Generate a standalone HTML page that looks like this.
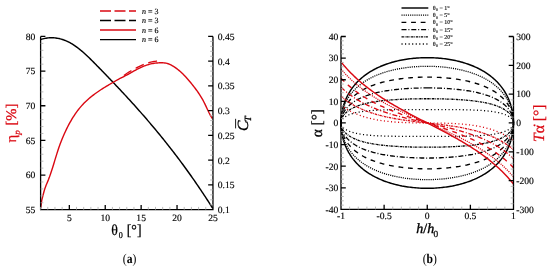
<!DOCTYPE html>
<html><head><meta charset="utf-8"><style>
html,body{margin:0;padding:0;background:#fff;}
body{width:550px;height:270px;overflow:hidden;}
svg{display:block;will-change:transform;font-family:"Liberation Serif",serif;text-rendering:geometricPrecision;}
</style></head><body>
<svg width="550" height="270" viewBox="0 0 550 270">
<rect width="550" height="270" fill="#fff"/>
<g fill="none" stroke-linecap="butt" stroke-linejoin="round">
<path d="M40.7 39.48 L41.78 39.15 L42.86 38.86 L43.95 38.6 L45.03 38.37 L46.11 38.18 L47.19 38.02 L48.28 37.9 L49.36 37.81 L50.44 37.76 L51.52 37.74 L52.61 37.75 L53.69 37.8 L54.77 37.89 L55.85 38.01 L56.94 38.16 L58.02 38.35 L59.1 38.57 L60.18 38.83 L61.27 39.12 L62.35 39.45 L63.43 39.81 L64.51 40.21 L65.59 40.64 L66.68 41.1 L67.76 41.6 L68.84 42.14 L69.92 42.71 L71.01 43.31 L72.09 43.95 L73.17 44.62 L74.25 45.33 L75.34 46.07 L76.42 46.85 L77.5 47.65 L78.58 48.48 L79.67 49.34 L80.75 50.23 L81.83 51.14 L82.91 52.07 L84 53.03 L85.08 54 L86.16 55 L87.24 56.01 L88.33 57.04 L89.41 58.08 L90.49 59.14 L91.57 60.2 L92.65 61.28 L93.74 62.37 L94.82 63.46 L95.9 64.56 L96.98 65.66 L98.07 66.77 L99.15 67.88 L100.23 68.99 L101.31 70.1 L102.4 71.21 L103.48 72.33 L104.56 73.44 L105.64 74.56 L106.73 75.68 L107.81 76.81 L108.89 77.93 L109.97 79.06 L111.06 80.19 L112.14 81.32 L113.22 82.46 L114.3 83.59 L115.38 84.73 L116.47 85.88 L117.55 87.02 L118.63 88.17 L119.71 89.32 L120.8 90.48 L121.88 91.64 L122.96 92.8 L124.04 93.96 L125.13 95.13 L126.21 96.3 L127.29 97.48 L128.37 98.66 L129.46 99.84 L130.54 101.03 L131.62 102.22 L132.7 103.41 L133.79 104.61 L134.87 105.81 L135.95 107.02 L137.03 108.23 L138.12 109.45 L139.2 110.67 L140.28 111.89 L141.36 113.12 L142.44 114.36 L143.53 115.6 L144.61 116.84 L145.69 118.09 L146.77 119.34 L147.86 120.6 L148.94 121.86 L150.02 123.13 L151.1 124.41 L152.19 125.69 L153.27 126.97 L154.35 128.26 L155.43 129.56 L156.52 130.86 L157.6 132.17 L158.68 133.49 L159.76 134.81 L160.85 136.13 L161.93 137.46 L163.01 138.8 L164.09 140.15 L165.17 141.5 L166.26 142.86 L167.34 144.22 L168.42 145.59 L169.5 146.97 L170.59 148.35 L171.67 149.74 L172.75 151.14 L173.83 152.55 L174.92 153.96 L176 155.38 L177.08 156.8 L178.16 158.24 L179.25 159.68 L180.33 161.13 L181.41 162.58 L182.49 164.05 L183.58 165.52 L184.66 167 L185.74 168.48 L186.82 169.98 L187.91 171.48 L188.99 172.99 L190.07 174.51 L191.15 176.04 L192.23 177.58 L193.32 179.12 L194.4 180.68 L195.48 182.24 L196.56 183.81 L197.65 185.39 L198.73 186.97 L199.81 188.57 L200.89 190.18 L201.98 191.79 L203.06 193.42 L204.14 195.05 L205.22 196.69 L206.31 198.34 L207.39 200 L208.47 201.68 L209.55 203.36 L210.64 205.05 L211.72 206.75 L212.8 208.46" stroke="#000" stroke-width="1.45"/>
<path d="M123.85 75.47 L124.93 74.72 L126.01 73.97 L127.09 73.22 L128.17 72.49 L129.25 71.86 L130.33 71.22 L131.41 70.6 L132.49 69.99 L133.57 69.38 L134.65 68.79 L135.73 68.21 L136.81 67.64 L137.89 67.09 L138.97 66.55 L140.05 66.04 L141.13 65.54 L142.21 65.06 L143.29 64.6 L144.37 64.16 L145.45 63.75 L146.53 63.37 L147.61 63.01 L148.69 62.67 L149.77 62.37 L150.85 62.09 L151.93 61.85 L153.01 61.64 L154.09 61.46 L155.17 61.32 L156.25 61.22 L157.33 61.15 L158.41 61.16 L159.49 61.29 L160.57 61.45" stroke="#da0812" stroke-width="1.3" stroke-dasharray="9 4.8"/>
<path d="M40.7 207.69 L41.78 200.19 L42.86 195.89 L43.94 191.71 L45.02 188.16 L46.1 185.24 L47.18 182.66 L48.26 180.12 L49.34 177.36 L50.42 174.32 L51.5 171.08 L52.58 167.68 L53.66 164.17 L54.74 160.62 L55.82 157.09 L56.9 153.62 L57.98 150.27 L59.06 147.1 L60.14 144.09 L61.22 141.24 L62.3 138.54 L63.38 135.97 L64.46 133.51 L65.54 131.17 L66.62 128.92 L67.7 126.76 L68.78 124.69 L69.86 122.7 L70.94 120.79 L72.02 118.96 L73.1 117.2 L74.18 115.52 L75.26 113.91 L76.34 112.37 L77.42 110.9 L78.5 109.48 L79.58 108.13 L80.66 106.84 L81.74 105.61 L82.82 104.42 L83.89 103.29 L84.97 102.21 L86.05 101.16 L87.13 100.16 L88.21 99.2 L89.29 98.27 L90.37 97.37 L91.45 96.49 L92.53 95.64 L93.61 94.82 L94.69 94.01 L95.77 93.22 L96.85 92.45 L97.93 91.7 L99.01 90.97 L100.09 90.25 L101.17 89.54 L102.25 88.85 L103.33 88.17 L104.41 87.5 L105.49 86.84 L106.57 86.18 L107.65 85.54 L108.73 84.9 L109.81 84.27 L110.89 83.64 L111.97 83.01 L113.05 82.38 L114.13 81.76 L115.21 81.14 L116.29 80.51 L117.37 79.88 L118.45 79.29 L119.53 78.74 L120.61 78.19 L121.69 77.64 L122.77 77.08 L123.85 76.53 L124.93 75.97 L126.01 75.41 L127.09 74.86 L128.17 74.3 L129.25 73.66 L130.33 73.03 L131.41 72.41 L132.49 71.79 L133.57 71.19 L134.65 70.59 L135.73 70.01 L136.81 69.45 L137.89 68.9 L138.97 68.36 L140.05 67.84 L141.13 67.34 L142.21 66.86 L143.29 66.41 L144.37 65.97 L145.45 65.56 L146.53 65.17 L147.61 64.81 L148.69 64.48 L149.77 64.17 L150.85 63.9 L151.93 63.66 L153.01 63.45 L154.09 63.27 L155.17 63.13 L156.25 63.02 L157.33 62.95 L158.41 62.89 L159.49 62.79 L160.57 62.74 L161.65 62.73 L162.73 62.77 L163.81 62.85 L164.89 62.98 L165.97 63.15 L167.05 63.38 L168.13 63.75 L169.21 64.18 L170.28 64.66 L171.36 65.19 L172.44 65.78 L173.52 66.42 L174.6 67.11 L175.68 67.85 L176.76 68.64 L177.84 69.48 L178.92 70.36 L180 71.29 L181.08 72.26 L182.16 73.28 L183.24 74.33 L184.32 75.42 L185.4 76.56 L186.48 77.73 L187.56 78.93 L188.64 80.17 L189.72 81.45 L190.8 82.75 L191.88 84.09 L192.96 85.45 L194.04 86.85 L195.12 88.27 L196.2 89.72 L197.28 91.2 L198.36 92.74 L199.44 94.35 L200.52 96.04 L201.6 97.82 L202.68 99.7 L203.76 101.71 L204.84 103.85 L205.92 106.11 L207 108.43 L208.08 110.74 L209.16 112.98 L210.24 115.06 L211.32 116.92 L212.4 118.5" stroke="#da0812" stroke-width="1.4"/>
</g>
<path d="M40.6 36.45 V209.7 H212.95 V36.45 M40.6 209.7 H45.4 M40.6 175.05 H45.4 M40.6 140.4 H45.4 M40.6 105.75 H45.4 M40.6 71.1 H45.4 M40.6 36.45 H45.4 M212.95 209.7 H208.15 M212.95 184.95 H208.15 M212.95 160.2 H208.15 M212.95 135.45 H208.15 M212.95 110.7 H208.15 M212.95 85.95 H208.15 M212.95 61.2 H208.15 M212.95 36.45 H208.15 M69.33 209.7 V204.9 M105.23 209.7 V204.9 M141.14 209.7 V204.9 M177.04 209.7 V204.9 M212.95 209.7 V204.9" fill="none" stroke="#000" stroke-width="1.3"/>
<path d="M40.6 202.77 H43.4 M40.6 195.84 H43.4 M40.6 188.91 H43.4 M40.6 181.98 H43.4 M40.6 168.12 H43.4 M40.6 161.19 H43.4 M40.6 154.26 H43.4 M40.6 147.33 H43.4 M40.6 133.47 H43.4 M40.6 126.54 H43.4 M40.6 119.61 H43.4 M40.6 112.68 H43.4 M40.6 98.82 H43.4 M40.6 91.89 H43.4 M40.6 84.96 H43.4 M40.6 78.03 H43.4 M40.6 64.17 H43.4 M40.6 57.24 H43.4 M40.6 50.31 H43.4 M40.6 43.38 H43.4 M212.95 204.75 H210.15 M212.95 199.8 H210.15 M212.95 194.85 H210.15 M212.95 189.9 H210.15 M212.95 180 H210.15 M212.95 175.05 H210.15 M212.95 170.1 H210.15 M212.95 165.15 H210.15 M212.95 155.25 H210.15 M212.95 150.3 H210.15 M212.95 145.35 H210.15 M212.95 140.4 H210.15 M212.95 130.5 H210.15 M212.95 125.55 H210.15 M212.95 120.6 H210.15 M212.95 115.65 H210.15 M212.95 105.75 H210.15 M212.95 100.8 H210.15 M212.95 95.85 H210.15 M212.95 90.9 H210.15 M212.95 81 H210.15 M212.95 76.05 H210.15 M212.95 71.1 H210.15 M212.95 66.15 H210.15 M212.95 56.25 H210.15 M212.95 51.3 H210.15 M212.95 46.35 H210.15 M212.95 41.4 H210.15 M40.6 209.7 V206.9 M47.78 209.7 V206.9 M54.96 209.7 V206.9 M62.14 209.7 V206.9 M76.51 209.7 V206.9 M83.69 209.7 V206.9 M90.87 209.7 V206.9 M98.05 209.7 V206.9 M112.41 209.7 V206.9 M119.59 209.7 V206.9 M126.78 209.7 V206.9 M133.96 209.7 V206.9 M148.32 209.7 V206.9 M155.5 209.7 V206.9 M162.68 209.7 V206.9 M169.86 209.7 V206.9 M184.22 209.7 V206.9 M191.41 209.7 V206.9 M198.59 209.7 V206.9 M205.77 209.7 V206.9" fill="none" stroke="#aaa" stroke-width="0.8"/>
<g font-size="9.6" fill="#000" stroke="#000" stroke-width="0.15"><text x="35.4" y="212.9" text-anchor="end">55</text><text x="35.4" y="178.25" text-anchor="end">60</text><text x="35.4" y="143.6" text-anchor="end">65</text><text x="35.4" y="108.95" text-anchor="end">70</text><text x="35.4" y="74.3" text-anchor="end">75</text><text x="35.4" y="39.65" text-anchor="end">80</text><text x="217.8" y="213">0.1</text><text x="217.8" y="188.25">0.15</text><text x="217.8" y="163.5">0.2</text><text x="217.8" y="138.75">0.25</text><text x="217.8" y="114">0.3</text><text x="217.8" y="89.25">0.35</text><text x="217.8" y="64.5">0.4</text><text x="217.8" y="39.75">0.45</text><text x="69.33" y="221.3" text-anchor="middle">5</text><text x="105.23" y="221.3" text-anchor="middle">10</text><text x="141.14" y="221.3" text-anchor="middle">15</text><text x="177.04" y="221.3" text-anchor="middle">20</text><text x="212.95" y="221.3" text-anchor="middle">25</text></g>
<g fill="none" stroke-linejoin="round">
<path d="M427.25 57.65 L428.76 57.66 L430.26 57.68 L431.76 57.72 L433.27 57.78 L434.77 57.85 L436.27 57.94 L437.76 58.05 L439.25 58.17 L440.74 58.3 L442.23 58.46 L443.71 58.63 L445.18 58.81 L446.65 59.01 L448.12 59.23 L449.57 59.47 L451.02 59.72 L452.47 59.98 L453.9 60.27 L455.33 60.57 L456.75 60.89 L458.16 61.22 L459.56 61.57 L460.95 61.94 L462.33 62.32 L463.7 62.72 L465.06 63.14 L466.41 63.58 L467.74 64.03 L469.06 64.5 L470.38 64.98 L471.67 65.49 L472.96 66.01 L474.23 66.54 L475.48 67.1 L476.72 67.67 L477.95 68.26 L479.16 68.87 L480.35 69.49 L481.53 70.14 L482.69 70.8 L483.84 71.47 L484.96 72.17 L486.07 72.88 L487.16 73.61 L488.24 74.36 L489.29 75.12 L490.33 75.9 L491.35 76.7 L492.34 77.52 L493.32 78.35 L494.28 79.21 L495.22 80.07 L496.13 80.96 L497.03 81.86 L497.9 82.78 L498.75 83.71 L499.59 84.66 L500.39 85.63 L501.18 86.61 L501.94 87.61 L502.69 88.63 L503.4 89.66 L504.1 90.7 L504.77 91.76 L505.42 92.83 L506.04 93.92 L506.64 95.02 L507.22 96.13 L507.77 97.26 L508.3 98.4 L508.8 99.55 L509.28 100.71 L509.73 101.89 L510.16 103.07 L510.56 104.26 L510.94 105.47 L511.29 106.68 L511.62 107.9 L511.92 109.13 L512.19 110.36 L512.44 111.61 L512.66 112.85 L512.86 114.11 L513.03 115.37 L513.17 116.63 L513.29 117.89 L513.38 119.16 L513.45 120.43 L513.49 121.7 L513.5 122.97 L513.49 124.25 L513.45 125.52 L513.38 126.79 L513.29 128.06 L513.17 129.32 L513.03 130.58 L512.86 131.84 L512.66 133.1 L512.44 134.34 L512.19 135.59 L511.92 136.82 L511.62 138.05 L511.29 139.27 L510.94 140.48 L510.56 141.69 L510.16 142.88 L509.73 144.06 L509.28 145.24 L508.8 146.4 L508.3 147.55 L507.77 148.69 L507.22 149.82 L506.64 150.93 L506.04 152.03 L505.42 153.12 L504.77 154.19 L504.1 155.25 L503.4 156.29 L502.69 157.32 L501.94 158.34 L501.18 159.34 L500.39 160.32 L499.59 161.29 L498.75 162.24 L497.9 163.17 L497.03 164.09 L496.13 164.99 L495.22 165.88 L494.28 166.74 L493.32 167.6 L492.34 168.43 L491.35 169.25 L490.33 170.05 L489.29 170.83 L488.24 171.59 L487.16 172.34 L486.07 173.07 L484.96 173.78 L483.84 174.48 L482.69 175.15 L481.53 175.81 L480.35 176.46 L479.16 177.08 L477.95 177.69 L476.72 178.28 L475.48 178.85 L474.23 179.41 L472.96 179.94 L471.67 180.46 L470.38 180.97 L469.06 181.45 L467.74 181.92 L466.41 182.37 L465.06 182.81 L463.7 183.23 L462.33 183.63 L460.95 184.01 L459.56 184.38 L458.16 184.73 L456.75 185.06 L455.33 185.38 L453.9 185.68 L452.47 185.97 L451.02 186.23 L449.57 186.48 L448.12 186.72 L446.65 186.94 L445.18 187.14 L443.71 187.32 L442.23 187.49 L440.74 187.65 L439.25 187.78 L437.76 187.9 L436.27 188.01 L434.77 188.1 L433.27 188.17 L431.76 188.23 L430.26 188.27 L428.76 188.29 L427.25 188.3 L425.74 188.29 L424.24 188.27 L422.74 188.23 L421.23 188.17 L419.73 188.1 L418.23 188.01 L416.74 187.9 L415.25 187.78 L413.76 187.65 L412.27 187.49 L410.79 187.32 L409.32 187.14 L407.85 186.94 L406.38 186.72 L404.93 186.48 L403.48 186.23 L402.03 185.97 L400.6 185.68 L399.17 185.38 L397.75 185.06 L396.34 184.73 L394.94 184.38 L393.55 184.01 L392.17 183.63 L390.8 183.23 L389.44 182.81 L388.09 182.37 L386.76 181.92 L385.44 181.45 L384.12 180.97 L382.83 180.46 L381.54 179.94 L380.27 179.41 L379.02 178.85 L377.78 178.28 L376.55 177.69 L375.34 177.08 L374.15 176.46 L372.97 175.81 L371.81 175.15 L370.66 174.48 L369.54 173.78 L368.43 173.07 L367.34 172.34 L366.26 171.59 L365.21 170.83 L364.17 170.05 L363.15 169.25 L362.16 168.43 L361.18 167.6 L360.22 166.74 L359.28 165.88 L358.37 164.99 L357.47 164.09 L356.6 163.17 L355.75 162.24 L354.91 161.29 L354.11 160.32 L353.32 159.34 L352.56 158.34 L351.81 157.32 L351.1 156.29 L350.4 155.25 L349.73 154.19 L349.08 153.12 L348.46 152.03 L347.86 150.93 L347.28 149.82 L346.73 148.69 L346.2 147.55 L345.7 146.4 L345.22 145.24 L344.77 144.06 L344.34 142.88 L343.94 141.69 L343.56 140.48 L343.21 139.27 L342.88 138.05 L342.58 136.82 L342.31 135.59 L342.06 134.34 L341.84 133.1 L341.64 131.84 L341.47 130.58 L341.33 129.32 L341.21 128.06 L341.12 126.79 L341.05 125.52 L341.01 124.25 L341 122.98 L341.01 121.7 L341.05 120.43 L341.12 119.16 L341.21 117.89 L341.33 116.63 L341.47 115.37 L341.64 114.11 L341.84 112.85 L342.06 111.61 L342.31 110.36 L342.58 109.13 L342.88 107.9 L343.21 106.68 L343.56 105.47 L343.94 104.26 L344.34 103.07 L344.77 101.89 L345.22 100.71 L345.7 99.55 L346.2 98.4 L346.73 97.26 L347.28 96.13 L347.86 95.02 L348.46 93.92 L349.08 92.83 L349.73 91.76 L350.4 90.7 L351.1 89.66 L351.81 88.63 L352.56 87.61 L353.32 86.61 L354.11 85.63 L354.91 84.66 L355.75 83.71 L356.6 82.78 L357.47 81.86 L358.37 80.96 L359.28 80.07 L360.22 79.21 L361.18 78.35 L362.16 77.52 L363.15 76.7 L364.17 75.9 L365.21 75.12 L366.26 74.36 L367.34 73.61 L368.43 72.88 L369.54 72.17 L370.66 71.47 L371.81 70.8 L372.97 70.14 L374.15 69.49 L375.34 68.87 L376.55 68.26 L377.78 67.67 L379.02 67.1 L380.27 66.54 L381.54 66.01 L382.83 65.49 L384.12 64.98 L385.44 64.5 L386.76 64.03 L388.09 63.58 L389.44 63.14 L390.8 62.72 L392.17 62.32 L393.55 61.94 L394.94 61.57 L396.34 61.22 L397.75 60.89 L399.17 60.57 L400.6 60.27 L402.03 59.98 L403.48 59.72 L404.93 59.47 L406.38 59.23 L407.85 59.01 L409.32 58.81 L410.79 58.63 L412.27 58.46 L413.76 58.3 L415.25 58.17 L416.74 58.05 L418.23 57.94 L419.73 57.85 L421.23 57.78 L422.74 57.72 L424.24 57.68 L425.74 57.66 Z" stroke="#000" stroke-width="1.45"/>
<path d="M427.25 66.3 L428.76 66.31 L430.26 66.33 L431.76 66.36 L433.27 66.41 L434.77 66.47 L436.27 66.54 L437.76 66.63 L439.25 66.73 L440.74 66.84 L442.23 66.97 L443.71 67.11 L445.18 67.27 L446.65 67.44 L448.12 67.62 L449.57 67.82 L451.02 68.03 L452.47 68.25 L453.9 68.49 L455.33 68.75 L456.75 69.01 L458.16 69.29 L459.56 69.59 L460.95 69.9 L462.33 70.22 L463.7 70.56 L465.06 70.91 L466.41 71.28 L467.74 71.66 L469.06 72.06 L470.38 72.47 L471.67 72.9 L472.96 73.34 L474.23 73.8 L475.48 74.27 L476.72 74.76 L477.95 75.26 L479.16 75.78 L480.35 76.31 L481.53 76.86 L482.69 77.42 L483.84 78 L484.96 78.59 L486.07 79.21 L487.16 79.83 L488.24 80.47 L489.29 81.13 L490.33 81.8 L491.35 82.49 L492.34 83.19 L493.32 83.91 L494.28 84.65 L495.22 85.4 L496.13 86.16 L497.03 86.94 L497.9 87.74 L498.75 88.55 L499.59 89.37 L500.39 90.21 L501.18 91.07 L501.94 91.94 L502.69 92.82 L503.4 93.72 L504.1 94.63 L504.77 95.55 L505.42 96.49 L506.04 97.44 L506.64 98.4 L507.22 99.37 L507.77 100.36 L508.3 101.36 L508.8 102.37 L509.28 103.39 L509.73 104.41 L510.16 105.45 L510.56 106.5 L510.94 107.56 L511.29 108.62 L511.62 109.7 L511.92 110.78 L512.19 111.87 L512.44 112.96 L512.66 114.06 L512.86 115.16 L513.03 116.27 L513.17 117.38 L513.29 118.5 L513.38 119.61 L513.45 120.73 L513.49 121.85 L513.5 122.97 L513.49 124.1 L513.45 125.22 L513.38 126.34 L513.29 127.45 L513.17 128.57 L513.03 129.68 L512.86 130.79 L512.66 131.89 L512.44 132.99 L512.19 134.08 L511.92 135.17 L511.62 136.25 L511.29 137.33 L510.94 138.39 L510.56 139.45 L510.16 140.5 L509.73 141.54 L509.28 142.56 L508.8 143.58 L508.3 144.59 L507.77 145.59 L507.22 146.58 L506.64 147.55 L506.04 148.51 L505.42 149.46 L504.77 150.4 L504.1 151.32 L503.4 152.23 L502.69 153.13 L501.94 154.01 L501.18 154.88 L500.39 155.74 L499.59 156.58 L498.75 157.4 L497.9 158.21 L497.03 159.01 L496.13 159.79 L495.22 160.55 L494.28 161.3 L493.32 162.04 L492.34 162.76 L491.35 163.46 L490.33 164.15 L489.29 164.82 L488.24 165.48 L487.16 166.12 L486.07 166.74 L484.96 167.36 L483.84 167.95 L482.69 168.53 L481.53 169.09 L480.35 169.64 L479.16 170.17 L477.95 170.69 L476.72 171.19 L475.48 171.68 L474.23 172.15 L472.96 172.61 L471.67 173.05 L470.38 173.48 L469.06 173.89 L467.74 174.29 L466.41 174.67 L465.06 175.04 L463.7 175.39 L462.33 175.73 L460.95 176.05 L459.56 176.36 L458.16 176.66 L456.75 176.94 L455.33 177.2 L453.9 177.46 L452.47 177.7 L451.02 177.92 L449.57 178.13 L448.12 178.33 L446.65 178.51 L445.18 178.68 L443.71 178.84 L442.23 178.98 L440.74 179.11 L439.25 179.22 L437.76 179.32 L436.27 179.41 L434.77 179.48 L433.27 179.54 L431.76 179.59 L430.26 179.62 L428.76 179.64 L427.25 179.65 L425.74 179.64 L424.24 179.62 L422.74 179.59 L421.23 179.54 L419.73 179.48 L418.23 179.41 L416.74 179.32 L415.25 179.22 L413.76 179.11 L412.27 178.98 L410.79 178.84 L409.32 178.68 L407.85 178.51 L406.38 178.33 L404.93 178.13 L403.48 177.92 L402.03 177.7 L400.6 177.46 L399.17 177.2 L397.75 176.94 L396.34 176.66 L394.94 176.36 L393.55 176.05 L392.17 175.73 L390.8 175.39 L389.44 175.04 L388.09 174.67 L386.76 174.29 L385.44 173.89 L384.12 173.48 L382.83 173.05 L381.54 172.61 L380.27 172.15 L379.02 171.68 L377.78 171.19 L376.55 170.69 L375.34 170.17 L374.15 169.64 L372.97 169.09 L371.81 168.53 L370.66 167.95 L369.54 167.36 L368.43 166.74 L367.34 166.12 L366.26 165.48 L365.21 164.82 L364.17 164.15 L363.15 163.46 L362.16 162.76 L361.18 162.04 L360.22 161.3 L359.28 160.55 L358.37 159.79 L357.47 159.01 L356.6 158.21 L355.75 157.4 L354.91 156.58 L354.11 155.74 L353.32 154.88 L352.56 154.01 L351.81 153.13 L351.1 152.23 L350.4 151.32 L349.73 150.4 L349.08 149.46 L348.46 148.51 L347.86 147.55 L347.28 146.58 L346.73 145.59 L346.2 144.59 L345.7 143.58 L345.22 142.56 L344.77 141.54 L344.34 140.5 L343.94 139.45 L343.56 138.39 L343.21 137.33 L342.88 136.25 L342.58 135.17 L342.31 134.08 L342.06 132.99 L341.84 131.89 L341.64 130.79 L341.47 129.68 L341.33 128.57 L341.21 127.45 L341.12 126.34 L341.05 125.22 L341.01 124.1 L341 122.98 L341.01 121.85 L341.05 120.73 L341.12 119.61 L341.21 118.5 L341.33 117.38 L341.47 116.27 L341.64 115.16 L341.84 114.06 L342.06 112.96 L342.31 111.87 L342.58 110.78 L342.88 109.7 L343.21 108.62 L343.56 107.56 L343.94 106.5 L344.34 105.45 L344.77 104.41 L345.22 103.39 L345.7 102.37 L346.2 101.36 L346.73 100.36 L347.28 99.37 L347.86 98.4 L348.46 97.44 L349.08 96.49 L349.73 95.55 L350.4 94.63 L351.1 93.72 L351.81 92.82 L352.56 91.94 L353.32 91.07 L354.11 90.21 L354.91 89.37 L355.75 88.55 L356.6 87.74 L357.47 86.94 L358.37 86.16 L359.28 85.4 L360.22 84.65 L361.18 83.91 L362.16 83.19 L363.15 82.49 L364.17 81.8 L365.21 81.13 L366.26 80.47 L367.34 79.83 L368.43 79.21 L369.54 78.59 L370.66 78 L371.81 77.42 L372.97 76.86 L374.15 76.31 L375.34 75.78 L376.55 75.26 L377.78 74.76 L379.02 74.27 L380.27 73.8 L381.54 73.34 L382.83 72.9 L384.12 72.47 L385.44 72.06 L386.76 71.66 L388.09 71.28 L389.44 70.91 L390.8 70.56 L392.17 70.22 L393.55 69.9 L394.94 69.59 L396.34 69.29 L397.75 69.01 L399.17 68.75 L400.6 68.49 L402.03 68.25 L403.48 68.03 L404.93 67.82 L406.38 67.62 L407.85 67.44 L409.32 67.27 L410.79 67.11 L412.27 66.97 L413.76 66.84 L415.25 66.73 L416.74 66.63 L418.23 66.54 L419.73 66.47 L421.23 66.41 L422.74 66.36 L424.24 66.33 L425.74 66.31 Z" stroke="#000" stroke-width="1.3" stroke-dasharray="1.1 1.05"/>
<path d="M427.25 77.11 L428.76 77.11 L430.26 77.13 L431.76 77.15 L433.27 77.19 L434.77 77.24 L436.27 77.29 L437.76 77.36 L439.25 77.43 L440.74 77.52 L442.23 77.62 L443.71 77.73 L445.18 77.84 L446.65 77.97 L448.12 78.11 L449.57 78.26 L451.02 78.42 L452.47 78.59 L453.9 78.77 L455.33 78.97 L456.75 79.17 L458.16 79.38 L459.56 79.61 L460.95 79.85 L462.33 80.1 L463.7 80.36 L465.06 80.63 L466.41 80.91 L467.74 81.21 L469.06 81.51 L470.38 81.83 L471.67 82.16 L472.96 82.51 L474.23 82.86 L475.48 83.23 L476.72 83.61 L477.95 84 L479.16 84.41 L480.35 84.83 L481.53 85.26 L482.69 85.7 L483.84 86.16 L484.96 86.63 L486.07 87.11 L487.16 87.61 L488.24 88.12 L489.29 88.64 L490.33 89.17 L491.35 89.72 L492.34 90.29 L493.32 90.86 L494.28 91.45 L495.22 92.05 L496.13 92.67 L497.03 93.3 L497.9 93.94 L498.75 94.59 L499.59 95.26 L500.39 95.94 L501.18 96.64 L501.94 97.34 L502.69 98.06 L503.4 98.79 L504.1 99.53 L504.77 100.29 L505.42 101.06 L506.04 101.83 L506.64 102.62 L507.22 103.42 L507.77 104.23 L508.3 105.05 L508.8 105.89 L509.28 106.73 L509.73 107.57 L510.16 108.43 L510.56 109.3 L510.94 110.17 L511.29 111.06 L511.62 111.95 L511.92 112.84 L512.19 113.74 L512.44 114.65 L512.66 115.56 L512.86 116.48 L513.03 117.4 L513.17 118.32 L513.29 119.25 L513.38 120.18 L513.45 121.11 L513.49 122.04 L513.5 122.97 L513.49 123.91 L513.45 124.84 L513.38 125.77 L513.29 126.7 L513.17 127.63 L513.03 128.55 L512.86 129.47 L512.66 130.39 L512.44 131.3 L512.19 132.21 L511.92 133.11 L511.62 134 L511.29 134.89 L510.94 135.78 L510.56 136.65 L510.16 137.52 L509.73 138.38 L509.28 139.22 L508.8 140.06 L508.3 140.9 L507.77 141.72 L507.22 142.53 L506.64 143.33 L506.04 144.12 L505.42 144.89 L504.77 145.66 L504.1 146.42 L503.4 147.16 L502.69 147.89 L501.94 148.61 L501.18 149.31 L500.39 150.01 L499.59 150.69 L498.75 151.36 L497.9 152.01 L497.03 152.65 L496.13 153.28 L495.22 153.9 L494.28 154.5 L493.32 155.09 L492.34 155.66 L491.35 156.23 L490.33 156.78 L489.29 157.31 L488.24 157.83 L487.16 158.34 L486.07 158.84 L484.96 159.32 L483.84 159.79 L482.69 160.25 L481.53 160.69 L480.35 161.12 L479.16 161.54 L477.95 161.95 L476.72 162.34 L475.48 162.72 L474.23 163.09 L472.96 163.44 L471.67 163.79 L470.38 164.12 L469.06 164.44 L467.74 164.74 L466.41 165.04 L465.06 165.32 L463.7 165.59 L462.33 165.85 L460.95 166.1 L459.56 166.34 L458.16 166.57 L456.75 166.78 L455.33 166.98 L453.9 167.18 L452.47 167.36 L451.02 167.53 L449.57 167.69 L448.12 167.84 L446.65 167.98 L445.18 168.11 L443.71 168.22 L442.23 168.33 L440.74 168.43 L439.25 168.52 L437.76 168.59 L436.27 168.66 L434.77 168.71 L433.27 168.76 L431.76 168.8 L430.26 168.82 L428.76 168.84 L427.25 168.84 L425.74 168.84 L424.24 168.82 L422.74 168.8 L421.23 168.76 L419.73 168.71 L418.23 168.66 L416.74 168.59 L415.25 168.52 L413.76 168.43 L412.27 168.33 L410.79 168.22 L409.32 168.11 L407.85 167.98 L406.38 167.84 L404.93 167.69 L403.48 167.53 L402.03 167.36 L400.6 167.18 L399.17 166.98 L397.75 166.78 L396.34 166.57 L394.94 166.34 L393.55 166.1 L392.17 165.85 L390.8 165.59 L389.44 165.32 L388.09 165.04 L386.76 164.74 L385.44 164.44 L384.12 164.12 L382.83 163.79 L381.54 163.44 L380.27 163.09 L379.02 162.72 L377.78 162.34 L376.55 161.95 L375.34 161.54 L374.15 161.12 L372.97 160.69 L371.81 160.25 L370.66 159.79 L369.54 159.32 L368.43 158.84 L367.34 158.34 L366.26 157.83 L365.21 157.31 L364.17 156.78 L363.15 156.23 L362.16 155.66 L361.18 155.09 L360.22 154.5 L359.28 153.9 L358.37 153.28 L357.47 152.65 L356.6 152.01 L355.75 151.36 L354.91 150.69 L354.11 150.01 L353.32 149.31 L352.56 148.61 L351.81 147.89 L351.1 147.16 L350.4 146.42 L349.73 145.66 L349.08 144.89 L348.46 144.12 L347.86 143.33 L347.28 142.53 L346.73 141.72 L346.2 140.9 L345.7 140.06 L345.22 139.22 L344.77 138.38 L344.34 137.52 L343.94 136.65 L343.56 135.78 L343.21 134.89 L342.88 134 L342.58 133.11 L342.31 132.21 L342.06 131.3 L341.84 130.39 L341.64 129.47 L341.47 128.55 L341.33 127.63 L341.21 126.7 L341.12 125.77 L341.05 124.84 L341.01 123.91 L341 122.98 L341.01 122.04 L341.05 121.11 L341.12 120.18 L341.21 119.25 L341.33 118.32 L341.47 117.4 L341.64 116.48 L341.84 115.56 L342.06 114.65 L342.31 113.74 L342.58 112.84 L342.88 111.95 L343.21 111.06 L343.56 110.17 L343.94 109.3 L344.34 108.43 L344.77 107.57 L345.22 106.73 L345.7 105.89 L346.2 105.05 L346.73 104.23 L347.28 103.42 L347.86 102.62 L348.46 101.83 L349.08 101.06 L349.73 100.29 L350.4 99.53 L351.1 98.79 L351.81 98.06 L352.56 97.34 L353.32 96.64 L354.11 95.94 L354.91 95.26 L355.75 94.59 L356.6 93.94 L357.47 93.3 L358.37 92.67 L359.28 92.05 L360.22 91.45 L361.18 90.86 L362.16 90.29 L363.15 89.72 L364.17 89.17 L365.21 88.64 L366.26 88.12 L367.34 87.61 L368.43 87.11 L369.54 86.63 L370.66 86.16 L371.81 85.7 L372.97 85.26 L374.15 84.83 L375.34 84.41 L376.55 84 L377.78 83.61 L379.02 83.23 L380.27 82.86 L381.54 82.51 L382.83 82.16 L384.12 81.83 L385.44 81.51 L386.76 81.21 L388.09 80.91 L389.44 80.63 L390.8 80.36 L392.17 80.1 L393.55 79.85 L394.94 79.61 L396.34 79.38 L397.75 79.17 L399.17 78.97 L400.6 78.77 L402.03 78.59 L403.48 78.42 L404.93 78.26 L406.38 78.11 L407.85 77.97 L409.32 77.84 L410.79 77.73 L412.27 77.62 L413.76 77.52 L415.25 77.43 L416.74 77.36 L418.23 77.29 L419.73 77.24 L421.23 77.19 L422.74 77.15 L424.24 77.13 L425.74 77.11 Z" stroke="#000" stroke-width="1.35" stroke-dasharray="4.8 4.8"/>
<path d="M427.25 87.92 L428.76 87.92 L430.26 87.93 L431.76 87.95 L433.27 87.97 L434.77 88 L436.27 88.04 L437.76 88.09 L439.25 88.14 L440.74 88.2 L442.23 88.26 L443.71 88.34 L445.18 88.42 L446.65 88.5 L448.12 88.6 L449.57 88.7 L451.02 88.81 L452.47 88.93 L453.9 89.05 L455.33 89.19 L456.75 89.33 L458.16 89.48 L459.56 89.63 L460.95 89.8 L462.33 89.97 L463.7 90.15 L465.06 90.34 L466.41 90.54 L467.74 90.75 L469.06 90.97 L470.38 91.19 L471.67 91.43 L472.96 91.67 L474.23 91.93 L475.48 92.19 L476.72 92.46 L477.95 92.75 L479.16 93.04 L480.35 93.34 L481.53 93.66 L482.69 93.98 L483.84 94.32 L484.96 94.66 L486.07 95.02 L487.16 95.38 L488.24 95.76 L489.29 96.15 L490.33 96.55 L491.35 96.96 L492.34 97.38 L493.32 97.81 L494.28 98.25 L495.22 98.71 L496.13 99.17 L497.03 99.65 L497.9 100.14 L498.75 100.64 L499.59 101.15 L500.39 101.67 L501.18 102.2 L501.94 102.75 L502.69 103.3 L503.4 103.87 L504.1 104.44 L504.77 105.03 L505.42 105.62 L506.04 106.23 L506.64 106.85 L507.22 107.47 L507.77 108.11 L508.3 108.75 L508.8 109.4 L509.28 110.07 L509.73 110.74 L510.16 111.41 L510.56 112.1 L510.94 112.79 L511.29 113.49 L511.62 114.19 L511.92 114.9 L512.19 115.62 L512.44 116.34 L512.66 117.07 L512.86 117.8 L513.03 118.53 L513.17 119.27 L513.29 120 L513.38 120.74 L513.45 121.49 L513.49 122.23 L513.5 122.97 L513.49 123.72 L513.45 124.46 L513.38 125.21 L513.29 125.95 L513.17 126.68 L513.03 127.42 L512.86 128.15 L512.66 128.88 L512.44 129.61 L512.19 130.33 L511.92 131.05 L511.62 131.76 L511.29 132.46 L510.94 133.16 L510.56 133.85 L510.16 134.54 L509.73 135.21 L509.28 135.88 L508.8 136.55 L508.3 137.2 L507.77 137.84 L507.22 138.48 L506.64 139.1 L506.04 139.72 L505.42 140.33 L504.77 140.92 L504.1 141.51 L503.4 142.08 L502.69 142.65 L501.94 143.2 L501.18 143.75 L500.39 144.28 L499.59 144.8 L498.75 145.31 L497.9 145.81 L497.03 146.3 L496.13 146.78 L495.22 147.24 L494.28 147.7 L493.32 148.14 L492.34 148.57 L491.35 148.99 L490.33 149.4 L489.29 149.8 L488.24 150.19 L487.16 150.57 L486.07 150.93 L484.96 151.29 L483.84 151.63 L482.69 151.97 L481.53 152.29 L480.35 152.61 L479.16 152.91 L477.95 153.2 L476.72 153.49 L475.48 153.76 L474.23 154.02 L472.96 154.28 L471.67 154.52 L470.38 154.76 L469.06 154.98 L467.74 155.2 L466.41 155.41 L465.06 155.61 L463.7 155.8 L462.33 155.98 L460.95 156.15 L459.56 156.32 L458.16 156.47 L456.75 156.62 L455.33 156.76 L453.9 156.9 L452.47 157.02 L451.02 157.14 L449.57 157.25 L448.12 157.35 L446.65 157.45 L445.18 157.53 L443.71 157.61 L442.23 157.69 L440.74 157.75 L439.25 157.81 L437.76 157.86 L436.27 157.91 L434.77 157.95 L433.27 157.98 L431.76 158 L430.26 158.02 L428.76 158.03 L427.25 158.03 L425.74 158.03 L424.24 158.02 L422.74 158 L421.23 157.98 L419.73 157.95 L418.23 157.91 L416.74 157.86 L415.25 157.81 L413.76 157.75 L412.27 157.69 L410.79 157.61 L409.32 157.53 L407.85 157.45 L406.38 157.35 L404.93 157.25 L403.48 157.14 L402.03 157.02 L400.6 156.9 L399.17 156.76 L397.75 156.62 L396.34 156.47 L394.94 156.32 L393.55 156.15 L392.17 155.98 L390.8 155.8 L389.44 155.61 L388.09 155.41 L386.76 155.2 L385.44 154.98 L384.12 154.76 L382.83 154.52 L381.54 154.28 L380.27 154.02 L379.02 153.76 L377.78 153.49 L376.55 153.2 L375.34 152.91 L374.15 152.61 L372.97 152.29 L371.81 151.97 L370.66 151.63 L369.54 151.29 L368.43 150.93 L367.34 150.57 L366.26 150.19 L365.21 149.8 L364.17 149.4 L363.15 148.99 L362.16 148.57 L361.18 148.14 L360.22 147.7 L359.28 147.24 L358.37 146.78 L357.47 146.3 L356.6 145.81 L355.75 145.31 L354.91 144.8 L354.11 144.28 L353.32 143.75 L352.56 143.2 L351.81 142.65 L351.1 142.08 L350.4 141.51 L349.73 140.92 L349.08 140.33 L348.46 139.72 L347.86 139.1 L347.28 138.48 L346.73 137.84 L346.2 137.2 L345.7 136.55 L345.22 135.88 L344.77 135.21 L344.34 134.54 L343.94 133.85 L343.56 133.16 L343.21 132.46 L342.88 131.76 L342.58 131.05 L342.31 130.33 L342.06 129.61 L341.84 128.88 L341.64 128.15 L341.47 127.42 L341.33 126.68 L341.21 125.95 L341.12 125.21 L341.05 124.46 L341.01 123.72 L341 122.98 L341.01 122.23 L341.05 121.49 L341.12 120.74 L341.21 120 L341.33 119.27 L341.47 118.53 L341.64 117.8 L341.84 117.07 L342.06 116.34 L342.31 115.62 L342.58 114.9 L342.88 114.19 L343.21 113.49 L343.56 112.79 L343.94 112.1 L344.34 111.41 L344.77 110.74 L345.22 110.07 L345.7 109.4 L346.2 108.75 L346.73 108.11 L347.28 107.47 L347.86 106.85 L348.46 106.23 L349.08 105.62 L349.73 105.03 L350.4 104.44 L351.1 103.87 L351.81 103.3 L352.56 102.75 L353.32 102.2 L354.11 101.67 L354.91 101.15 L355.75 100.64 L356.6 100.14 L357.47 99.65 L358.37 99.17 L359.28 98.71 L360.22 98.25 L361.18 97.81 L362.16 97.38 L363.15 96.96 L364.17 96.55 L365.21 96.15 L366.26 95.76 L367.34 95.38 L368.43 95.02 L369.54 94.66 L370.66 94.32 L371.81 93.98 L372.97 93.66 L374.15 93.34 L375.34 93.04 L376.55 92.75 L377.78 92.46 L379.02 92.19 L380.27 91.93 L381.54 91.67 L382.83 91.43 L384.12 91.19 L385.44 90.97 L386.76 90.75 L388.09 90.54 L389.44 90.34 L390.8 90.15 L392.17 89.97 L393.55 89.8 L394.94 89.63 L396.34 89.48 L397.75 89.33 L399.17 89.19 L400.6 89.05 L402.03 88.93 L403.48 88.81 L404.93 88.7 L406.38 88.6 L407.85 88.5 L409.32 88.42 L410.79 88.34 L412.27 88.26 L413.76 88.2 L415.25 88.14 L416.74 88.09 L418.23 88.04 L419.73 88 L421.23 87.97 L422.74 87.95 L424.24 87.93 L425.74 87.92 Z" stroke="#000" stroke-width="1.3" stroke-dasharray="5 1.9 1 1.9"/>
<path d="M427.25 98.73 L428.76 98.73 L430.26 98.73 L431.76 98.74 L433.27 98.76 L434.77 98.77 L436.27 98.79 L437.76 98.82 L439.25 98.84 L440.74 98.87 L442.23 98.91 L443.71 98.95 L445.18 98.99 L446.65 99.04 L448.12 99.09 L449.57 99.14 L451.02 99.2 L452.47 99.27 L453.9 99.33 L455.33 99.41 L456.75 99.48 L458.16 99.57 L459.56 99.66 L460.95 99.75 L462.33 99.85 L463.7 99.95 L465.06 100.06 L466.41 100.17 L467.74 100.3 L469.06 100.42 L470.38 100.56 L471.67 100.69 L472.96 100.84 L474.23 100.99 L475.48 101.15 L476.72 101.32 L477.95 101.49 L479.16 101.67 L480.35 101.86 L481.53 102.06 L482.69 102.26 L483.84 102.47 L484.96 102.69 L486.07 102.92 L487.16 103.16 L488.24 103.4 L489.29 103.66 L490.33 103.92 L491.35 104.19 L492.34 104.47 L493.32 104.76 L494.28 105.06 L495.22 105.36 L496.13 105.68 L497.03 106 L497.9 106.34 L498.75 106.68 L499.59 107.04 L500.39 107.4 L501.18 107.77 L501.94 108.15 L502.69 108.54 L503.4 108.94 L504.1 109.35 L504.77 109.77 L505.42 110.19 L506.04 110.63 L506.64 111.07 L507.22 111.52 L507.77 111.98 L508.3 112.45 L508.8 112.92 L509.28 113.41 L509.73 113.9 L510.16 114.39 L510.56 114.89 L510.94 115.4 L511.29 115.92 L511.62 116.44 L511.92 116.97 L512.19 117.5 L512.44 118.03 L512.66 118.57 L512.86 119.11 L513.03 119.66 L513.17 120.21 L513.29 120.76 L513.38 121.31 L513.45 121.86 L513.49 122.42 L513.5 122.97 L513.49 123.53 L513.45 124.09 L513.38 124.64 L513.29 125.19 L513.17 125.74 L513.03 126.29 L512.86 126.84 L512.66 127.38 L512.44 127.92 L512.19 128.45 L511.92 128.98 L511.62 129.51 L511.29 130.03 L510.94 130.55 L510.56 131.06 L510.16 131.56 L509.73 132.05 L509.28 132.54 L508.8 133.03 L508.3 133.5 L507.77 133.97 L507.22 134.43 L506.64 134.88 L506.04 135.32 L505.42 135.76 L504.77 136.18 L504.1 136.6 L503.4 137.01 L502.69 137.41 L501.94 137.8 L501.18 138.18 L500.39 138.55 L499.59 138.91 L498.75 139.27 L497.9 139.61 L497.03 139.95 L496.13 140.27 L495.22 140.59 L494.28 140.89 L493.32 141.19 L492.34 141.48 L491.35 141.76 L490.33 142.03 L489.29 142.29 L488.24 142.55 L487.16 142.79 L486.07 143.03 L484.96 143.26 L483.84 143.48 L482.69 143.69 L481.53 143.89 L480.35 144.09 L479.16 144.28 L477.95 144.46 L476.72 144.63 L475.48 144.8 L474.23 144.96 L472.96 145.11 L471.67 145.26 L470.38 145.39 L469.06 145.53 L467.74 145.65 L466.41 145.78 L465.06 145.89 L463.7 146 L462.33 146.1 L460.95 146.2 L459.56 146.29 L458.16 146.38 L456.75 146.47 L455.33 146.54 L453.9 146.62 L452.47 146.68 L451.02 146.75 L449.57 146.81 L448.12 146.86 L446.65 146.91 L445.18 146.96 L443.71 147 L442.23 147.04 L440.74 147.08 L439.25 147.11 L437.76 147.13 L436.27 147.16 L434.77 147.18 L433.27 147.19 L431.76 147.21 L430.26 147.22 L428.76 147.22 L427.25 147.22 L425.74 147.22 L424.24 147.22 L422.74 147.21 L421.23 147.19 L419.73 147.18 L418.23 147.16 L416.74 147.13 L415.25 147.11 L413.76 147.08 L412.27 147.04 L410.79 147 L409.32 146.96 L407.85 146.91 L406.38 146.86 L404.93 146.81 L403.48 146.75 L402.03 146.68 L400.6 146.62 L399.17 146.54 L397.75 146.47 L396.34 146.38 L394.94 146.29 L393.55 146.2 L392.17 146.1 L390.8 146 L389.44 145.89 L388.09 145.78 L386.76 145.65 L385.44 145.53 L384.12 145.39 L382.83 145.26 L381.54 145.11 L380.27 144.96 L379.02 144.8 L377.78 144.63 L376.55 144.46 L375.34 144.28 L374.15 144.09 L372.97 143.89 L371.81 143.69 L370.66 143.48 L369.54 143.26 L368.43 143.03 L367.34 142.79 L366.26 142.55 L365.21 142.29 L364.17 142.03 L363.15 141.76 L362.16 141.48 L361.18 141.19 L360.22 140.89 L359.28 140.59 L358.37 140.27 L357.47 139.95 L356.6 139.61 L355.75 139.27 L354.91 138.91 L354.11 138.55 L353.32 138.18 L352.56 137.8 L351.81 137.41 L351.1 137.01 L350.4 136.6 L349.73 136.18 L349.08 135.76 L348.46 135.32 L347.86 134.88 L347.28 134.43 L346.73 133.97 L346.2 133.5 L345.7 133.03 L345.22 132.54 L344.77 132.05 L344.34 131.56 L343.94 131.06 L343.56 130.55 L343.21 130.03 L342.88 129.51 L342.58 128.98 L342.31 128.45 L342.06 127.92 L341.84 127.38 L341.64 126.84 L341.47 126.29 L341.33 125.74 L341.21 125.19 L341.12 124.64 L341.05 124.09 L341.01 123.53 L341 122.97 L341.01 122.42 L341.05 121.86 L341.12 121.31 L341.21 120.76 L341.33 120.21 L341.47 119.66 L341.64 119.11 L341.84 118.57 L342.06 118.03 L342.31 117.5 L342.58 116.97 L342.88 116.44 L343.21 115.92 L343.56 115.4 L343.94 114.89 L344.34 114.39 L344.77 113.9 L345.22 113.41 L345.7 112.92 L346.2 112.45 L346.73 111.98 L347.28 111.52 L347.86 111.07 L348.46 110.63 L349.08 110.19 L349.73 109.77 L350.4 109.35 L351.1 108.94 L351.81 108.54 L352.56 108.15 L353.32 107.77 L354.11 107.4 L354.91 107.04 L355.75 106.68 L356.6 106.34 L357.47 106 L358.37 105.68 L359.28 105.36 L360.22 105.06 L361.18 104.76 L362.16 104.47 L363.15 104.19 L364.17 103.92 L365.21 103.66 L366.26 103.4 L367.34 103.16 L368.43 102.92 L369.54 102.69 L370.66 102.47 L371.81 102.26 L372.97 102.06 L374.15 101.86 L375.34 101.67 L376.55 101.49 L377.78 101.32 L379.02 101.15 L380.27 100.99 L381.54 100.84 L382.83 100.69 L384.12 100.56 L385.44 100.42 L386.76 100.3 L388.09 100.17 L389.44 100.06 L390.8 99.95 L392.17 99.85 L393.55 99.75 L394.94 99.66 L396.34 99.57 L397.75 99.48 L399.17 99.41 L400.6 99.33 L402.03 99.27 L403.48 99.2 L404.93 99.14 L406.38 99.09 L407.85 99.04 L409.32 98.99 L410.79 98.95 L412.27 98.91 L413.76 98.87 L415.25 98.84 L416.74 98.82 L418.23 98.79 L419.73 98.77 L421.23 98.76 L422.74 98.74 L424.24 98.73 L425.74 98.73 Z" stroke="#000" stroke-width="1.3" stroke-dasharray="2.4 0.8 0.8 0.8"/>
<path d="M427.25 109.54 L428.76 109.54 L430.26 109.54 L431.76 109.54 L433.27 109.54 L434.77 109.54 L436.27 109.54 L437.76 109.54 L439.25 109.55 L440.74 109.55 L442.23 109.55 L443.71 109.56 L445.18 109.56 L446.65 109.57 L448.12 109.58 L449.57 109.58 L451.02 109.59 L452.47 109.6 L453.9 109.61 L455.33 109.63 L456.75 109.64 L458.16 109.66 L459.56 109.68 L460.95 109.7 L462.33 109.72 L463.7 109.75 L465.06 109.77 L466.41 109.81 L467.74 109.84 L469.06 109.88 L470.38 109.92 L471.67 109.96 L472.96 110.01 L474.23 110.06 L475.48 110.11 L476.72 110.17 L477.95 110.24 L479.16 110.31 L480.35 110.38 L481.53 110.46 L482.69 110.54 L483.84 110.63 L484.96 110.73 L486.07 110.83 L487.16 110.93 L488.24 111.05 L489.29 111.17 L490.33 111.29 L491.35 111.42 L492.34 111.56 L493.32 111.71 L494.28 111.86 L495.22 112.02 L496.13 112.18 L497.03 112.36 L497.9 112.54 L498.75 112.73 L499.59 112.92 L500.39 113.13 L501.18 113.34 L501.94 113.56 L502.69 113.78 L503.4 114.02 L504.1 114.26 L504.77 114.5 L505.42 114.76 L506.04 115.02 L506.64 115.29 L507.22 115.57 L507.77 115.85 L508.3 116.15 L508.8 116.44 L509.28 116.75 L509.73 117.06 L510.16 117.37 L510.56 117.69 L510.94 118.02 L511.29 118.35 L511.62 118.69 L511.92 119.03 L512.19 119.37 L512.44 119.72 L512.66 120.07 L512.86 120.43 L513.03 120.79 L513.17 121.15 L513.29 121.51 L513.38 121.88 L513.45 122.24 L513.49 122.61 L513.5 122.97 L513.49 123.34 L513.45 123.71 L513.38 124.07 L513.29 124.44 L513.17 124.8 L513.03 125.16 L512.86 125.52 L512.66 125.88 L512.44 126.23 L512.19 126.58 L511.92 126.92 L511.62 127.26 L511.29 127.6 L510.94 127.93 L510.56 128.26 L510.16 128.58 L509.73 128.89 L509.28 129.2 L508.8 129.51 L508.3 129.8 L507.77 130.1 L507.22 130.38 L506.64 130.66 L506.04 130.93 L505.42 131.19 L504.77 131.45 L504.1 131.69 L503.4 131.93 L502.69 132.17 L501.94 132.39 L501.18 132.61 L500.39 132.82 L499.59 133.03 L498.75 133.22 L497.9 133.41 L497.03 133.59 L496.13 133.77 L495.22 133.93 L494.28 134.09 L493.32 134.24 L492.34 134.39 L491.35 134.53 L490.33 134.66 L489.29 134.78 L488.24 134.9 L487.16 135.02 L486.07 135.12 L484.96 135.22 L483.84 135.32 L482.69 135.41 L481.53 135.49 L480.35 135.57 L479.16 135.64 L477.95 135.71 L476.72 135.78 L475.48 135.84 L474.23 135.89 L472.96 135.94 L471.67 135.99 L470.38 136.03 L469.06 136.07 L467.74 136.11 L466.41 136.14 L465.06 136.18 L463.7 136.2 L462.33 136.23 L460.95 136.25 L459.56 136.27 L458.16 136.29 L456.75 136.31 L455.33 136.32 L453.9 136.34 L452.47 136.35 L451.02 136.36 L449.57 136.37 L448.12 136.37 L446.65 136.38 L445.18 136.39 L443.71 136.39 L442.23 136.4 L440.74 136.4 L439.25 136.4 L437.76 136.41 L436.27 136.41 L434.77 136.41 L433.27 136.41 L431.76 136.41 L430.26 136.41 L428.76 136.41 L427.25 136.41 L425.74 136.41 L424.24 136.41 L422.74 136.41 L421.23 136.41 L419.73 136.41 L418.23 136.41 L416.74 136.41 L415.25 136.4 L413.76 136.4 L412.27 136.4 L410.79 136.39 L409.32 136.39 L407.85 136.38 L406.38 136.37 L404.93 136.37 L403.48 136.36 L402.03 136.35 L400.6 136.34 L399.17 136.32 L397.75 136.31 L396.34 136.29 L394.94 136.27 L393.55 136.25 L392.17 136.23 L390.8 136.2 L389.44 136.18 L388.09 136.14 L386.76 136.11 L385.44 136.07 L384.12 136.03 L382.83 135.99 L381.54 135.94 L380.27 135.89 L379.02 135.84 L377.78 135.78 L376.55 135.71 L375.34 135.64 L374.15 135.57 L372.97 135.49 L371.81 135.41 L370.66 135.32 L369.54 135.22 L368.43 135.12 L367.34 135.02 L366.26 134.9 L365.21 134.78 L364.17 134.66 L363.15 134.53 L362.16 134.39 L361.18 134.24 L360.22 134.09 L359.28 133.93 L358.37 133.77 L357.47 133.59 L356.6 133.41 L355.75 133.22 L354.91 133.03 L354.11 132.82 L353.32 132.61 L352.56 132.39 L351.81 132.17 L351.1 131.93 L350.4 131.69 L349.73 131.45 L349.08 131.19 L348.46 130.93 L347.86 130.66 L347.28 130.38 L346.73 130.1 L346.2 129.8 L345.7 129.51 L345.22 129.2 L344.77 128.89 L344.34 128.58 L343.94 128.26 L343.56 127.93 L343.21 127.6 L342.88 127.26 L342.58 126.92 L342.31 126.58 L342.06 126.23 L341.84 125.88 L341.64 125.52 L341.47 125.16 L341.33 124.8 L341.21 124.44 L341.12 124.07 L341.05 123.71 L341.01 123.34 L341 122.97 L341.01 122.61 L341.05 122.24 L341.12 121.88 L341.21 121.51 L341.33 121.15 L341.47 120.79 L341.64 120.43 L341.84 120.07 L342.06 119.72 L342.31 119.37 L342.58 119.03 L342.88 118.69 L343.21 118.35 L343.56 118.02 L343.94 117.69 L344.34 117.37 L344.77 117.06 L345.22 116.75 L345.7 116.44 L346.2 116.15 L346.73 115.85 L347.28 115.57 L347.86 115.29 L348.46 115.02 L349.08 114.76 L349.73 114.5 L350.4 114.26 L351.1 114.02 L351.81 113.78 L352.56 113.56 L353.32 113.34 L354.11 113.13 L354.91 112.92 L355.75 112.73 L356.6 112.54 L357.47 112.36 L358.37 112.18 L359.28 112.02 L360.22 111.86 L361.18 111.71 L362.16 111.56 L363.15 111.42 L364.17 111.29 L365.21 111.17 L366.26 111.05 L367.34 110.93 L368.43 110.83 L369.54 110.73 L370.66 110.63 L371.81 110.54 L372.97 110.46 L374.15 110.38 L375.34 110.31 L376.55 110.24 L377.78 110.17 L379.02 110.11 L380.27 110.06 L381.54 110.01 L382.83 109.96 L384.12 109.92 L385.44 109.88 L386.76 109.84 L388.09 109.81 L389.44 109.77 L390.8 109.75 L392.17 109.72 L393.55 109.7 L394.94 109.68 L396.34 109.66 L397.75 109.64 L399.17 109.63 L400.6 109.61 L402.03 109.6 L403.48 109.59 L404.93 109.58 L406.38 109.58 L407.85 109.57 L409.32 109.56 L410.79 109.56 L412.27 109.55 L413.76 109.55 L415.25 109.55 L416.74 109.54 L418.23 109.54 L419.73 109.54 L421.23 109.54 L422.74 109.54 L424.24 109.54 L425.74 109.54 Z" stroke="#000" stroke-width="1.3" stroke-dasharray="1.1 2.45"/>
<path d="M341 61.9 L342.44 63.66 L343.88 65.37 L345.31 67.02 L346.75 68.63 L348.19 70.18 L349.62 71.7 L351.06 73.17 L352.5 74.61 L353.94 76.01 L355.38 77.37 L356.81 78.7 L358.25 79.99 L359.69 81.26 L361.12 82.49 L362.56 83.7 L364 84.88 L365.44 86.04 L366.88 87.17 L368.31 88.28 L369.75 89.36 L371.19 90.43 L372.62 91.48 L374.06 92.5 L375.5 93.51 L376.94 94.5 L378.38 95.48 L379.81 96.44 L381.25 97.38 L382.69 98.31 L384.12 99.23 L385.56 100.13 L387 101.02 L388.44 101.9 L389.88 102.77 L391.31 103.63 L392.75 104.48 L394.19 105.31 L395.62 106.14 L397.06 106.96 L398.5 107.78 L399.94 108.58 L401.38 109.38 L402.81 110.17 L404.25 110.95 L405.69 111.73 L407.12 112.51 L408.56 113.27 L410 114.04 L411.44 114.8 L412.88 115.55 L414.31 116.31 L415.75 117.05 L417.19 117.8 L418.62 118.54 L420.06 119.29 L421.5 120.03 L422.94 120.76 L424.38 121.5 L425.81 122.24 L427.25 122.97 L428.69 123.71 L430.12 124.45 L431.56 125.19 L433 125.92 L434.44 126.66 L435.88 127.41 L437.31 128.15 L438.75 128.9 L440.19 129.64 L441.62 130.4 L443.06 131.15 L444.5 131.91 L445.94 132.68 L447.38 133.44 L448.81 134.22 L450.25 135 L451.69 135.78 L453.12 136.57 L454.56 137.37 L456 138.17 L457.44 138.99 L458.88 139.81 L460.31 140.64 L461.75 141.47 L463.19 142.32 L464.62 143.18 L466.06 144.05 L467.5 144.93 L468.94 145.82 L470.38 146.72 L471.81 147.64 L473.25 148.57 L474.69 149.51 L476.12 150.47 L477.56 151.45 L479 152.44 L480.44 153.45 L481.88 154.47 L483.31 155.52 L484.75 156.59 L486.19 157.67 L487.62 158.78 L489.06 159.91 L490.5 161.07 L491.94 162.25 L493.38 163.46 L494.81 164.69 L496.25 165.96 L497.69 167.25 L499.12 168.58 L500.56 169.94 L502 171.34 L503.44 172.78 L504.88 174.25 L506.31 175.77 L507.75 177.32 L509.19 178.93 L510.62 180.58 L512.06 182.29 L513.5 184.05" stroke="#da0812" stroke-width="1.45"/>
<path d="M341 69.15 L342.44 70.78 L343.88 72.37 L345.31 73.9 L346.75 75.39 L348.19 76.83 L349.62 78.22 L351.06 79.57 L352.5 80.89 L353.94 82.16 L355.38 83.4 L356.81 84.61 L358.25 85.79 L359.69 86.93 L361.12 88.04 L362.56 89.13 L364 90.19 L365.44 91.23 L366.88 92.24 L368.31 93.23 L369.75 94.19 L371.19 95.14 L372.62 96.06 L374.06 96.97 L375.5 97.86 L376.94 98.73 L378.38 99.58 L379.81 100.42 L381.25 101.25 L382.69 102.05 L384.12 102.85 L385.56 103.63 L387 104.4 L388.44 105.16 L389.88 105.91 L391.31 106.65 L392.75 107.37 L394.19 108.09 L395.62 108.8 L397.06 109.5 L398.5 110.19 L399.94 110.87 L401.38 111.55 L402.81 112.22 L404.25 112.89 L405.69 113.54 L407.12 114.2 L408.56 114.84 L410 115.49 L411.44 116.13 L412.88 116.76 L414.31 117.39 L415.75 118.02 L417.19 118.65 L418.62 119.27 L420.06 119.89 L421.5 120.51 L422.94 121.13 L424.38 121.74 L425.81 122.36 L427.25 122.97 L428.69 123.59 L430.12 124.21 L431.56 124.82 L433 125.44 L434.44 126.06 L435.88 126.68 L437.31 127.3 L438.75 127.93 L440.19 128.56 L441.62 129.19 L443.06 129.82 L444.5 130.46 L445.94 131.11 L447.38 131.75 L448.81 132.41 L450.25 133.06 L451.69 133.73 L453.12 134.4 L454.56 135.08 L456 135.76 L457.44 136.45 L458.88 137.15 L460.31 137.86 L461.75 138.58 L463.19 139.3 L464.62 140.04 L466.06 140.79 L467.5 141.55 L468.94 142.32 L470.38 143.1 L471.81 143.9 L473.25 144.7 L474.69 145.53 L476.12 146.37 L477.56 147.22 L479 148.09 L480.44 148.98 L481.88 149.89 L483.31 150.81 L484.75 151.76 L486.19 152.72 L487.62 153.71 L489.06 154.72 L490.5 155.76 L491.94 156.82 L493.38 157.91 L494.81 159.02 L496.25 160.16 L497.69 161.34 L499.12 162.55 L500.56 163.79 L502 165.06 L503.44 166.38 L504.88 167.73 L506.31 169.12 L507.75 170.56 L509.19 172.05 L510.62 173.58 L512.06 175.17 L513.5 176.8" stroke="#da0812" stroke-width="1.3" stroke-dasharray="1.1 1.05"/>
<path d="M341 78.2 L342.44 79.69 L343.88 81.12 L345.31 82.51 L346.75 83.84 L348.19 85.13 L349.62 86.37 L351.06 87.57 L352.5 88.74 L353.94 89.86 L355.38 90.95 L356.81 92.01 L358.25 93.03 L359.69 94.02 L361.12 94.99 L362.56 95.92 L364 96.83 L365.44 97.72 L366.88 98.58 L368.31 99.41 L369.75 100.23 L371.19 101.02 L372.62 101.8 L374.06 102.55 L375.5 103.29 L376.94 104.01 L378.38 104.71 L379.81 105.4 L381.25 106.08 L382.69 106.73 L384.12 107.38 L385.56 108.01 L387 108.63 L388.44 109.24 L389.88 109.83 L391.31 110.42 L392.75 111 L394.19 111.56 L395.62 112.12 L397.06 112.67 L398.5 113.21 L399.94 113.74 L401.38 114.27 L402.81 114.79 L404.25 115.3 L405.69 115.81 L407.12 116.31 L408.56 116.81 L410 117.3 L411.44 117.79 L412.88 118.27 L414.31 118.75 L415.75 119.23 L417.19 119.7 L418.62 120.17 L420.06 120.64 L421.5 121.11 L422.94 121.58 L424.38 122.05 L425.81 122.51 L427.25 122.97 L428.69 123.44 L430.12 123.9 L431.56 124.37 L433 124.84 L434.44 125.31 L435.88 125.78 L437.31 126.25 L438.75 126.72 L440.19 127.2 L441.62 127.68 L443.06 128.16 L444.5 128.65 L445.94 129.14 L447.38 129.64 L448.81 130.14 L450.25 130.65 L451.69 131.16 L453.12 131.68 L454.56 132.21 L456 132.74 L457.44 133.28 L458.88 133.83 L460.31 134.39 L461.75 134.95 L463.19 135.53 L464.62 136.12 L466.06 136.71 L467.5 137.32 L468.94 137.94 L470.38 138.57 L471.81 139.22 L473.25 139.87 L474.69 140.55 L476.12 141.24 L477.56 141.94 L479 142.66 L480.44 143.4 L481.88 144.15 L483.31 144.93 L484.75 145.72 L486.19 146.54 L487.62 147.37 L489.06 148.23 L490.5 149.12 L491.94 150.03 L493.38 150.96 L494.81 151.93 L496.25 152.92 L497.69 153.94 L499.12 155 L500.56 156.09 L502 157.21 L503.44 158.38 L504.88 159.58 L506.31 160.82 L507.75 162.11 L509.19 163.44 L510.62 164.83 L512.06 166.26 L513.5 167.75" stroke="#da0812" stroke-width="1.35" stroke-dasharray="4.8 4.8"/>
<path d="M341 87.26 L342.44 88.59 L343.88 89.88 L345.31 91.11 L346.75 92.29 L348.19 93.43 L349.62 94.52 L351.06 95.57 L352.5 96.58 L353.94 97.56 L355.38 98.5 L356.81 99.4 L358.25 100.28 L359.69 101.12 L361.12 101.93 L362.56 102.72 L364 103.47 L365.44 104.21 L366.88 104.92 L368.31 105.6 L369.75 106.27 L371.19 106.91 L372.62 107.53 L374.06 108.14 L375.5 108.72 L376.94 109.29 L378.38 109.85 L379.81 110.38 L381.25 110.9 L382.69 111.41 L384.12 111.91 L385.56 112.39 L387 112.86 L388.44 113.31 L389.88 113.76 L391.31 114.19 L392.75 114.62 L394.19 115.03 L395.62 115.44 L397.06 115.84 L398.5 116.23 L399.94 116.61 L401.38 116.99 L402.81 117.35 L404.25 117.72 L405.69 118.07 L407.12 118.42 L408.56 118.77 L410 119.11 L411.44 119.45 L412.88 119.78 L414.31 120.11 L415.75 120.44 L417.19 120.76 L418.62 121.08 L420.06 121.4 L421.5 121.72 L422.94 122.03 L424.38 122.35 L425.81 122.66 L427.25 122.97 L428.69 123.29 L430.12 123.6 L431.56 123.92 L433 124.23 L434.44 124.55 L435.88 124.87 L437.31 125.19 L438.75 125.51 L440.19 125.84 L441.62 126.17 L443.06 126.5 L444.5 126.84 L445.94 127.18 L447.38 127.53 L448.81 127.88 L450.25 128.23 L451.69 128.6 L453.12 128.96 L454.56 129.34 L456 129.72 L457.44 130.11 L458.88 130.51 L460.31 130.92 L461.75 131.33 L463.19 131.76 L464.62 132.19 L466.06 132.64 L467.5 133.09 L468.94 133.56 L470.38 134.04 L471.81 134.54 L473.25 135.05 L474.69 135.57 L476.12 136.1 L477.56 136.66 L479 137.23 L480.44 137.81 L481.88 138.42 L483.31 139.04 L484.75 139.68 L486.19 140.35 L487.62 141.03 L489.06 141.74 L490.5 142.48 L491.94 143.23 L493.38 144.02 L494.81 144.83 L496.25 145.67 L497.69 146.55 L499.12 147.45 L500.56 148.39 L502 149.37 L503.44 150.38 L504.88 151.43 L506.31 152.52 L507.75 153.66 L509.19 154.84 L510.62 156.07 L512.06 157.36 L513.5 158.69" stroke="#da0812" stroke-width="1.3" stroke-dasharray="5 1.9 1 1.9"/>
<path d="M341 96.31 L342.44 97.5 L343.88 98.63 L345.31 99.71 L346.75 100.74 L348.19 101.73 L349.62 102.67 L351.06 103.57 L352.5 104.43 L353.94 105.26 L355.38 106.04 L356.81 106.8 L358.25 107.52 L359.69 108.21 L361.12 108.87 L362.56 109.51 L364 110.11 L365.44 110.7 L366.88 111.26 L368.31 111.79 L369.75 112.3 L371.19 112.8 L372.62 113.27 L374.06 113.72 L375.5 114.16 L376.94 114.58 L378.38 114.98 L379.81 115.36 L381.25 115.73 L382.69 116.09 L384.12 116.43 L385.56 116.76 L387 117.08 L388.44 117.39 L389.88 117.68 L391.31 117.97 L392.75 118.24 L394.19 118.5 L395.62 118.76 L397.06 119.01 L398.5 119.25 L399.94 119.48 L401.38 119.7 L402.81 119.92 L404.25 120.13 L405.69 120.34 L407.12 120.54 L408.56 120.73 L410 120.92 L411.44 121.11 L412.88 121.29 L414.31 121.47 L415.75 121.64 L417.19 121.82 L418.62 121.99 L420.06 122.15 L421.5 122.32 L422.94 122.48 L424.38 122.65 L425.81 122.81 L427.25 122.97 L428.69 123.14 L430.12 123.3 L431.56 123.47 L433 123.63 L434.44 123.8 L435.88 123.96 L437.31 124.13 L438.75 124.31 L440.19 124.48 L441.62 124.66 L443.06 124.84 L444.5 125.03 L445.94 125.22 L447.38 125.41 L448.81 125.61 L450.25 125.82 L451.69 126.03 L453.12 126.25 L454.56 126.47 L456 126.7 L457.44 126.94 L458.88 127.19 L460.31 127.45 L461.75 127.71 L463.19 127.98 L464.62 128.27 L466.06 128.56 L467.5 128.87 L468.94 129.19 L470.38 129.52 L471.81 129.86 L473.25 130.22 L474.69 130.59 L476.12 130.97 L477.56 131.37 L479 131.79 L480.44 132.23 L481.88 132.68 L483.31 133.15 L484.75 133.65 L486.19 134.16 L487.62 134.69 L489.06 135.25 L490.5 135.84 L491.94 136.44 L493.38 137.08 L494.81 137.74 L496.25 138.43 L497.69 139.15 L499.12 139.91 L500.56 140.69 L502 141.52 L503.44 142.38 L504.88 143.28 L506.31 144.22 L507.75 145.21 L509.19 146.24 L510.62 147.32 L512.06 148.45 L513.5 149.64" stroke="#da0812" stroke-width="1.3" stroke-dasharray="2.4 0.8 0.8 0.8"/>
<path d="M341 105.37 L342.44 106.4 L343.88 107.38 L345.31 108.31 L346.75 109.19 L348.19 110.03 L349.62 110.82 L351.06 111.57 L352.5 112.28 L353.94 112.95 L355.38 113.59 L356.81 114.19 L358.25 114.76 L359.69 115.3 L361.12 115.82 L362.56 116.3 L364 116.76 L365.44 117.19 L366.88 117.59 L368.31 117.98 L369.75 118.34 L371.19 118.68 L372.62 119 L374.06 119.31 L375.5 119.59 L376.94 119.86 L378.38 120.11 L379.81 120.34 L381.25 120.56 L382.69 120.77 L384.12 120.96 L385.56 121.14 L387 121.31 L388.44 121.46 L389.88 121.61 L391.31 121.74 L392.75 121.86 L394.19 121.98 L395.62 122.08 L397.06 122.18 L398.5 122.26 L399.94 122.35 L401.38 122.42 L402.81 122.49 L404.25 122.55 L405.69 122.6 L407.12 122.65 L408.56 122.69 L410 122.73 L411.44 122.77 L412.88 122.8 L414.31 122.83 L415.75 122.85 L417.19 122.87 L418.62 122.89 L420.06 122.91 L421.5 122.92 L422.94 122.94 L424.38 122.95 L425.81 122.96 L427.25 122.97 L428.69 122.99 L430.12 123 L431.56 123.01 L433 123.03 L434.44 123.04 L435.88 123.06 L437.31 123.08 L438.75 123.1 L440.19 123.12 L441.62 123.15 L443.06 123.18 L444.5 123.22 L445.94 123.26 L447.38 123.3 L448.81 123.35 L450.25 123.4 L451.69 123.46 L453.12 123.53 L454.56 123.6 L456 123.69 L457.44 123.77 L458.88 123.87 L460.31 123.97 L461.75 124.09 L463.19 124.21 L464.62 124.34 L466.06 124.49 L467.5 124.64 L468.94 124.81 L470.38 124.99 L471.81 125.18 L473.25 125.39 L474.69 125.61 L476.12 125.84 L477.56 126.09 L479 126.36 L480.44 126.64 L481.88 126.95 L483.31 127.27 L484.75 127.61 L486.19 127.97 L487.62 128.36 L489.06 128.76 L490.5 129.19 L491.94 129.65 L493.38 130.13 L494.81 130.65 L496.25 131.19 L497.69 131.76 L499.12 132.36 L500.56 133 L502 133.67 L503.44 134.38 L504.88 135.13 L506.31 135.92 L507.75 136.76 L509.19 137.64 L510.62 138.57 L512.06 139.55 L513.5 140.58" stroke="#da0812" stroke-width="1.3" stroke-dasharray="1.1 2.45"/>
</g>
<path d="M341 36.5 V209.45 H513.5 V36.5 M341 209.45 H345.8 M341 187.83 H345.8 M341 166.21 H345.8 M341 144.59 H345.8 M341 122.97 H345.8 M341 101.36 H345.8 M341 79.74 H345.8 M341 58.12 H345.8 M341 36.5 H345.8 M513.5 209.45 H508.7 M513.5 180.62 H508.7 M513.5 151.8 H508.7 M513.5 122.97 H508.7 M513.5 94.15 H508.7 M513.5 65.32 H508.7 M513.5 36.5 H508.7 M341 209.45 V204.65 M384.12 209.45 V204.65 M427.25 209.45 V204.65 M470.38 209.45 V204.65 M513.5 209.45 V204.65" fill="none" stroke="#000" stroke-width="1.3"/>
<path d="M341 205.13 H343.8 M341 200.8 H343.8 M341 196.48 H343.8 M341 192.15 H343.8 M341 183.51 H343.8 M341 179.18 H343.8 M341 174.86 H343.8 M341 170.54 H343.8 M341 161.89 H343.8 M341 157.56 H343.8 M341 153.24 H343.8 M341 148.92 H343.8 M341 140.27 H343.8 M341 135.95 H343.8 M341 131.62 H343.8 M341 127.3 H343.8 M341 118.65 H343.8 M341 114.33 H343.8 M341 110 H343.8 M341 105.68 H343.8 M341 97.03 H343.8 M341 92.71 H343.8 M341 88.38 H343.8 M341 84.06 H343.8 M341 75.41 H343.8 M341 71.09 H343.8 M341 66.77 H343.8 M341 62.44 H343.8 M341 53.8 H343.8 M341 49.47 H343.8 M341 45.15 H343.8 M341 40.82 H343.8 M513.5 203.69 H510.7 M513.5 197.92 H510.7 M513.5 192.16 H510.7 M513.5 186.39 H510.7 M513.5 174.86 H510.7 M513.5 169.09 H510.7 M513.5 163.33 H510.7 M513.5 157.56 H510.7 M513.5 146.03 H510.7 M513.5 140.27 H510.7 M513.5 134.5 H510.7 M513.5 128.74 H510.7 M513.5 117.21 H510.7 M513.5 111.44 H510.7 M513.5 105.68 H510.7 M513.5 99.91 H510.7 M513.5 88.38 H510.7 M513.5 82.62 H510.7 M513.5 76.85 H510.7 M513.5 71.09 H510.7 M513.5 59.56 H510.7 M513.5 53.79 H510.7 M513.5 48.03 H510.7 M513.5 42.27 H510.7 M349.62 209.45 V206.65 M358.25 209.45 V206.65 M366.88 209.45 V206.65 M375.5 209.45 V206.65 M392.75 209.45 V206.65 M401.38 209.45 V206.65 M410 209.45 V206.65 M418.62 209.45 V206.65 M435.88 209.45 V206.65 M444.5 209.45 V206.65 M453.12 209.45 V206.65 M461.75 209.45 V206.65 M479 209.45 V206.65 M487.62 209.45 V206.65 M496.25 209.45 V206.65 M504.88 209.45 V206.65" fill="none" stroke="#aaa" stroke-width="0.8"/>
<g font-size="9.6" fill="#000" stroke="#000" stroke-width="0.15"><text x="338.3" y="212.75" text-anchor="end">-40</text><text x="338.3" y="191.13" text-anchor="end">-30</text><text x="338.3" y="169.51" text-anchor="end">-20</text><text x="338.3" y="147.89" text-anchor="end">-10</text><text x="338.3" y="126.27" text-anchor="end">0</text><text x="338.3" y="104.66" text-anchor="end">10</text><text x="338.3" y="83.04" text-anchor="end">20</text><text x="338.3" y="61.42" text-anchor="end">30</text><text x="338.3" y="39.8" text-anchor="end">40</text><text x="516.2" y="212.75">-300</text><text x="516.2" y="183.93">-200</text><text x="516.2" y="155.1">-100</text><text x="516.2" y="126.27">0</text><text x="516.2" y="97.45">100</text><text x="516.2" y="68.62">200</text><text x="516.2" y="39.8">300</text><text x="341" y="218.7" text-anchor="middle">-1</text><text x="384.12" y="218.7" text-anchor="middle">-0.5</text><text x="427.25" y="218.7" text-anchor="middle">0</text><text x="470.38" y="218.7" text-anchor="middle">0.5</text><text x="513.5" y="218.7" text-anchor="middle">1</text></g>
<g fill="#000" stroke-linecap="butt"><path d="M100 11 H136" stroke="#da0812" stroke-width="1.4" stroke-dasharray="11 3.5"/><text x="142" y="13.8" font-size="8" stroke="#000" stroke-width="0.15"><tspan font-style="italic">n</tspan> = 3</text><path d="M100 20.53 H136" stroke="#000" stroke-width="1.4" stroke-dasharray="11 3.5"/><text x="142" y="23.33" font-size="8" stroke="#000" stroke-width="0.15"><tspan font-style="italic">n</tspan> = 3</text><path d="M100 30.06 H136" stroke="#da0812" stroke-width="1.4"/><text x="142" y="32.86" font-size="8" stroke="#000" stroke-width="0.15"><tspan font-style="italic">n</tspan> = 6</text><path d="M100 39.59 H136" stroke="#000" stroke-width="1.4"/><text x="142" y="42.39" font-size="8" stroke="#000" stroke-width="0.15"><tspan font-style="italic">n</tspan> = 6</text><path d="M401.5 8 H428.3" stroke="#000" stroke-width="1.45"/><text x="432.8" y="10" font-size="6" stroke="#000" stroke-width="0.12">θ<tspan font-size="3.8" dy="1.4" dx="0.3">0</tspan><tspan dy="-1.4"> = 1°</tspan></text><path d="M401.5 15.2 H428.3" stroke="#000" stroke-width="1.3" stroke-dasharray="1.1 1.05"/><text x="432.8" y="17.2" font-size="6" stroke="#000" stroke-width="0.12">θ<tspan font-size="3.8" dy="1.4" dx="0.3">0</tspan><tspan dy="-1.4"> = 5°</tspan></text><path d="M401.5 22.4 H428.3" stroke="#000" stroke-width="1.35" stroke-dasharray="4.8 4.8"/><text x="432.8" y="24.4" font-size="6" stroke="#000" stroke-width="0.12">θ<tspan font-size="3.8" dy="1.4" dx="0.3">0</tspan><tspan dy="-1.4"> = 10°</tspan></text><path d="M401.5 29.6 H428.3" stroke="#000" stroke-width="1.3" stroke-dasharray="5 1.9 1 1.9"/><text x="432.8" y="31.6" font-size="6" stroke="#000" stroke-width="0.12">θ<tspan font-size="3.8" dy="1.4" dx="0.3">0</tspan><tspan dy="-1.4"> = 15°</tspan></text><path d="M401.5 36.8 H428.3" stroke="#000" stroke-width="1.3" stroke-dasharray="2.4 0.8 0.8 0.8"/><text x="432.8" y="38.8" font-size="6" stroke="#000" stroke-width="0.12">θ<tspan font-size="3.8" dy="1.4" dx="0.3">0</tspan><tspan dy="-1.4"> = 20°</tspan></text><path d="M401.5 44 H428.3" stroke="#000" stroke-width="1.3" stroke-dasharray="1.1 2.45"/><text x="432.8" y="46" font-size="6" stroke="#000" stroke-width="0.12">θ<tspan font-size="3.8" dy="1.4" dx="0.3">0</tspan><tspan dy="-1.4"> = 25°</tspan></text></g>
<text transform="translate(15.8 142.4) rotate(-90)" font-size="14.7" fill="#da0812" stroke="#da0812" stroke-width="0.25">η<tspan font-size="9" font-style="italic" dy="4.2">p</tspan><tspan dy="-4.2" dx="1"> [%]</tspan></text>
<text transform="translate(247.9 131) rotate(-90)" font-size="15.5" font-style="italic" fill="#000" stroke="#000" stroke-width="0.3">C<tspan font-size="9.5" dy="3.3" dx="-0.8">T</tspan></text>
<path d="M235.6 118.8 V128.4" stroke="#000" stroke-width="0.9"/>
<text x="126.4" y="234.8" text-anchor="middle" font-size="15.2" transform="translate(126.4 0) scale(0.91 1) translate(-126.4 0)" stroke="#000" stroke-width="0.25">θ<tspan font-size="8.8" dy="3.2" dx="1">0</tspan><tspan dy="-3.2" dx="0.5"> [°]</tspan></text>
<text x="129.6" y="262.7" text-anchor="middle" font-size="13.5" transform="translate(129.6 0) scale(0.86 1) translate(-129.6 0)">(<tspan font-weight="bold">a</tspan>)</text>
<text transform="translate(321.6 123.2) rotate(-90)" text-anchor="middle" font-size="15.4" stroke="#000" stroke-width="0.25">α [°]</text>
<text transform="translate(544.1 123.3) rotate(-90)" text-anchor="middle" font-size="15.6" fill="#da0812" stroke="#da0812" stroke-width="0.25"><tspan font-style="italic">T</tspan>α̇ [°]</text>
<g font-size="14" stroke="#000" stroke-width="0.35"><text x="416.2" y="232.6" font-style="italic">h</text><text x="423.3" y="232.8" font-size="14">/</text><text x="427.2" y="232.6" font-style="italic">h</text><text x="433.4" y="237.3" font-size="9.3" stroke-width="0.2">0</text></g>
<text x="429.8" y="263" text-anchor="middle" font-size="13.5" transform="translate(429.8 0) scale(0.86 1) translate(-429.8 0)">(<tspan font-weight="bold">b</tspan>)</text>
</svg>
</body></html>
